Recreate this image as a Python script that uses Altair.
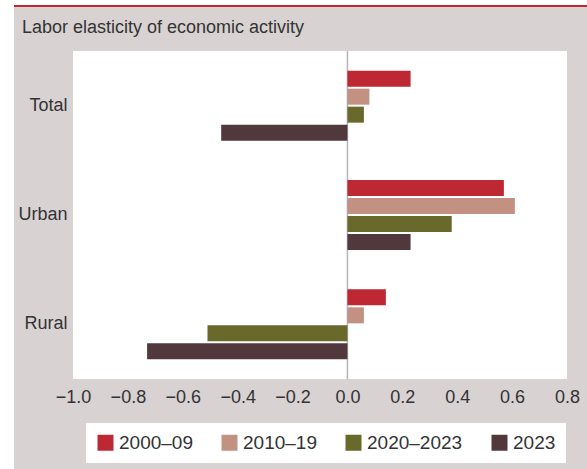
import altair as alt
import pandas as pd

categories = ["Total", "Urban", "Rural"]
series = ["2000–09", "2010–19", "2020–2023", "2023"]
v_2000_09 = [0.23, 0.57, 0.14]
v_2010_19 = [0.08, 0.61, 0.06]
v_2020_2023 = [0.06, 0.38, -0.51]
v_2023 = [-0.46, 0.23, -0.73]
colors = ["#be2832", "#c39182", "#6a692c", "#50383c"]
x_ticks = [-1.0, -0.8, -0.6, -0.4, -0.2, 0.0, 0.2, 0.4, 0.6, 0.8]
title_text = "Labor elasticity of economic activity"

rows = []
for s, vals in zip(series, [v_2000_09, v_2010_19, v_2020_2023, v_2023]):
    for c, v in zip(categories, vals):
        rows.append({"region": c, "period": s, "value": v})
df = pd.DataFrame(rows)

FONT = "Liberation Sans"
TXT = "#333333"
W, H = 494, 328

one = alt.Data(values=[{}])

bg = alt.Chart(one).mark_rect(color="#d8d2d2").encode(
    x=alt.value(-59), x2=alt.value(W + 20), y=alt.value(-44), y2=alt.value(H + 90)
)
topline = alt.Chart(one).mark_rule(color="#c0272d", strokeWidth=2).encode(
    x=alt.value(-59), x2=alt.value(W + 20), y=alt.value(-45)
)
plotbg = alt.Chart(one).mark_rect(color="white").encode(
    x=alt.value(0), x2=alt.value(W), y=alt.value(0), y2=alt.value(H)
)
title = alt.Chart(alt.Data(values=[{"t": title_text}])).mark_text(
    font=FONT, fontSize=18, color=TXT, align="left", baseline="alphabetic"
).encode(text="t:N", x=alt.value(-51), y=alt.value(-18))

xscale = alt.Scale(domain=[-1.0, 0.8], nice=False, zero=False)

zero = alt.Chart(pd.DataFrame({"z": [0.0]})).mark_rule(
    color="#b4b4bc", strokeWidth=1.5
).encode(x=alt.X("z:Q", scale=xscale), y=alt.value(0), y2=alt.value(H))

bars = alt.Chart(df).mark_bar(cornerRadius=0).encode(
    x=alt.X(
        "value:Q",
        scale=xscale,
        axis=alt.Axis(
            values=x_ticks, format=".1f", title=None, grid=False, ticks=False,
            tickSize=0, domain=False, labelFont=FONT, labelFontSize=18,
            labelColor=TXT, labelPadding=23, labelBaseline="alphabetic",
            labelFlush=False, labelOverlap=False, labelBound=False, zindex=2,
        ),
    ),
    y=alt.Y(
        "region:N",
        sort=categories,
        scale=alt.Scale(paddingInner=0.36, paddingOuter=0.18),
        axis=alt.Axis(
            title=None, ticks=False, tickSize=0, domain=False, labelFont=FONT,
            labelFontSize=18, labelColor=TXT, labelPadding=6, zindex=2,
        ),
    ),
    yOffset=alt.YOffset(
        "period:N", sort=series, scale=alt.Scale(paddingInner=0.11, paddingOuter=0)
    ),
    color=alt.Color(
        "period:N",
        sort=series,
        scale=alt.Scale(domain=series, range=colors),
        legend=alt.Legend(
            title=None, orient="none", legendX=13, legendY=372,
            direction="horizontal", columns=4, symbolType="square",
            symbolSize=256, symbolStrokeWidth=0, symbolOpacity=1,
            labelFont=FONT, labelFontSize=19, labelColor=TXT, labelOffset=4,
            columnPadding=27, padding=10, fillColor="white",
        ),
    ),
)

chart = alt.layer(bg, topline, plotbg, title, zero, bars).properties(
    width=W,
    height=H,
    autosize=alt.AutoSizeParams(type="none"),
    padding={"left": 73, "top": 51, "right": 20, "bottom": 90},
    background="white",
).configure_view(stroke=None, fill=None)

chart.save("out.html", embed_options={"renderer": "svg", "actions": False})
